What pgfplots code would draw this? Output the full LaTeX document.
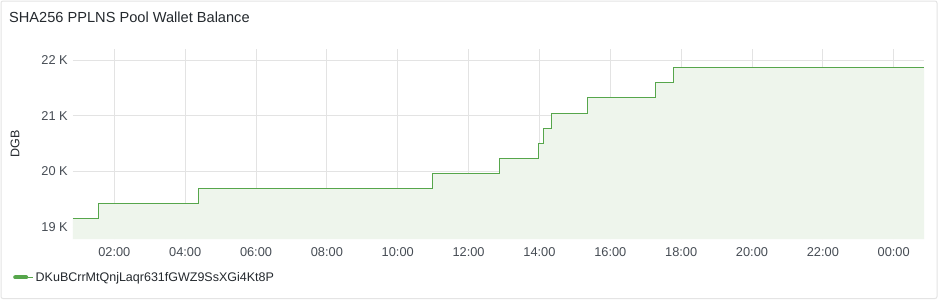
\documentclass[border=0pt]{standalone}
\usepackage{pgfplots}
\pgfplotsset{compat=1.18}
\usepackage{fontspec}
\setmainfont{Liberation Sans}
\definecolor{linegreen}{HTML}{56A64B}
\definecolor{fillgreen}{HTML}{EEF5EC}
\definecolor{txt}{HTML}{24292E}
\definecolor{ticktxt}{HTML}{464C54}
\definecolor{gridc}{HTML}{E3E3E3}
\definecolor{framec}{HTML}{E4E4E4}
\begin{document}
\begin{tikzpicture}[x=1pt,y=1pt]
\path[fill=white] (0,0) rectangle (940,-300);
\draw[framec, rounded corners=2pt, line width=1pt] (1,-1) rectangle (937,-298.5);
\node[anchor=west, inner sep=0pt, text=txt, font=\fontsize{14.6}{16}\selectfont] at (9,-17) {SHA256 PPLNS Pool Wallet Balance};
\node[rotate=90, inner sep=0pt, text=txt, font=\fontsize{12.5}{14}\selectfont] at (15,-144) {DGB};
\begin{axis}[
  at={(73pt,-239pt)}, anchor=south west,
  scale only axis, width=851pt, height=190pt,
  xmin=0.834, xmax=24.855, ymin=18784.5, ymax=22198,
  scaled y ticks=false, scaled x ticks=false,
  axis line style={draw=none},
  major tick length=0pt,
  grid=major, major grid style={gridc, line width=0.8pt},
  xtick={2,4,...,24},
  xticklabels={02:00,04:00,06:00,08:00,10:00,12:00,14:00,16:00,18:00,20:00,22:00,00:00},
  ytick={19000,20000,21000,22000},
  yticklabels={19 K,20 K,21 K,22 K},
  ticklabel style={font=\fontsize{12.8}{14}\selectfont, text=ticktxt, inner sep=0pt},
  xticklabel style={anchor=north, yshift=-8.5pt},
  yticklabel style={anchor=east, xshift=-5pt},
  legend style={at={(axis description cs:-0.0705,-0.2026)}, anchor=west, draw=none, fill=none,
    font=\fontsize{12.5}{14}\selectfont, text=txt, inner sep=0pt},
  legend image code/.code={\path (0pt,0pt) -- (19pt,0pt);\draw[linegreen, line width=4pt, line cap=round] (1pt,0pt) -- (12pt,0pt);},
]
\addplot[const plot, fill=fillgreen, draw=none, forget plot] coordinates {
(0.834,19156) (1.55,19426) (4.38,19695) (10.97,19965) (12.86,20234) (13.96,20503)
(14.11,20773) (14.34,21042) (15.36,21329) (17.27,21599) (17.77,21869) (24.855,21869)
} \closedcycle;
\addplot[const plot, linegreen, line width=1pt] coordinates {
(0.834,19156) (1.55,19426) (4.38,19695) (10.97,19965) (12.86,20234) (13.96,20503)
(14.11,20773) (14.34,21042) (15.36,21329) (17.27,21599) (17.77,21869) (24.855,21869)
};
\addlegendentry{DKuBCrrMtQnjLaqr631fGWZ9SsXGi4Kt8P}
\end{axis}
\end{tikzpicture}
\end{document}
